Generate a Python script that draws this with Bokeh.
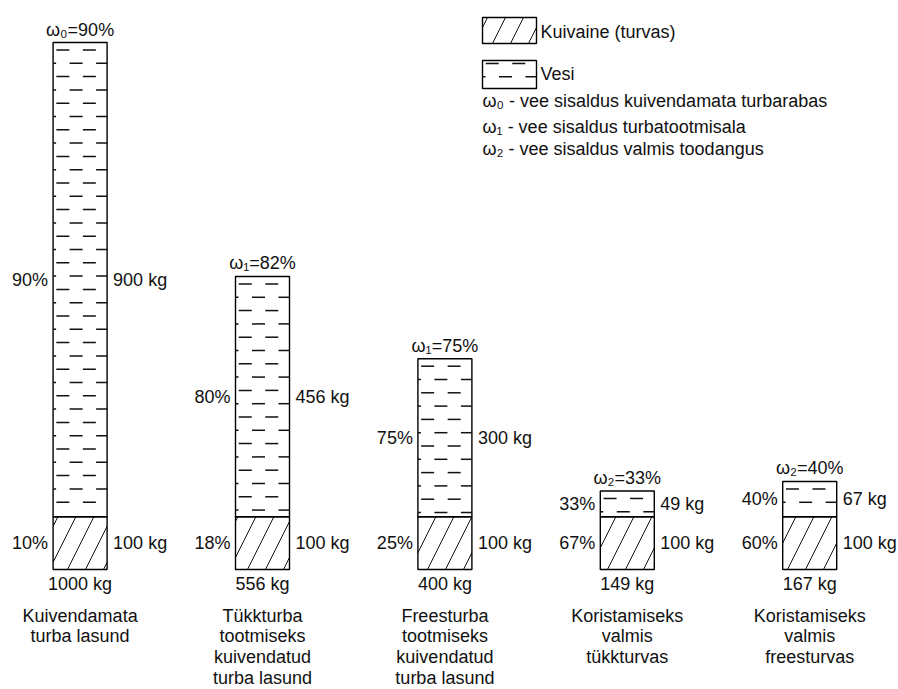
from bokeh.plotting import figure
from bokeh.models import Range1d, ColumnDataSource
from bokeh.core.properties import value
from bokeh.embed import file_html
from bokeh.resources import INLINE

# ---- data ----
top_labels = ["ω₀=90%", "ω₁=82%", "ω₁=75%", "ω₂=33%", "ω₂=40%"]
water_pct = ["90%", "80%", "75%", "33%", "40%"]
dry_pct = ["10%", "18%", "25%", "67%", "60%"]
water_kg = [900, 456, 300, 49, 67]
dry_kg = [100, 100, 100, 100, 100]
total_kg = [1000, 556, 400, 149, 167]
names = [
    ["Kuivendamata", "turba lasund"],
    ["Tükkturba", "tootmiseks", "kuivendatud", "turba lasund"],
    ["Freesturba", "tootmiseks", "kuivendatud", "turba lasund"],
    ["Koristamiseks", "valmis", "tükkturvas"],
    ["Koristamiseks", "valmis", "freesturvas"],
]
legend_items = ["Kuivaine (turvas)", "Vesi"]
legend_notes = [
    "ω₀ - vee sisaldus kuivendamata turbarabas",
    "ω₁ - vee sisaldus turbatootmisala",
    "ω₂ - vee sisaldus valmis toodangus",
]

# ---- layout ----
W, H = 898, 689
X0 = 79.6      # px of first bar centre
STEP = 182.4   # px between bars
S = 0.527      # px per kg
BASE = 120.0   # px from bottom to 0 kg
BWPX = 54.0
BW = BWPX / STEP
FONT = value("Liberation Sans")
FS = "18px"

def px_x(page_x):
    return (page_x - X0) / STEP

def px_y(page_y):
    return (H - page_y - BASE) / S

def y_px(yv):
    return H - BASE - yv * S

def dpx(px):
    return px / S

p = figure(width=W, height=H, output_backend="svg", toolbar_location=None,
           x_range=Range1d(-X0 / STEP, (W - X0) / STEP),
           y_range=Range1d(-BASE / S, (H - BASE) / S),
           x_axis_location=None, y_axis_location=None, min_border=0)
p.grid.visible = False
p.outline_line_color = None
p.background_fill_color = "white"

DRY = dict(fill_color="white", line_color="black", line_width=1.4,
           hatch_pattern="right_diagonal_line", hatch_color="#111111",
           hatch_weight=1.0, hatch_scale=36)
BOX = dict(fill_color="white", line_color="black", line_width=1.4)

# water texture: staggered dashes, generated per box
PER, DASH, ROW = 26.5, 13.0, 13.3
sx0, sy0, sx1, sy1 = [], [], [], []

def water_dashes(lpx, rpx, tpx, bpx, first=7.5):
    k = 0
    y = tpx + first
    while y <= bpx - 3:
        off = 3.25 if k % 2 == 0 else 3.25 + PER / 2
        start = lpx + off - PER
        while start < rpx:
            a, b = max(start, lpx), min(start + DASH, rpx)
            if b - a > 1:
                sx0.append(px_x(a)); sx1.append(px_x(b))
                sy0.append(px_y(y)); sy1.append(px_y(y))
            start += PER
        k += 1
        y += ROW

idx = list(range(len(total_kg)))
left = [i - BW / 2 for i in idx]
right = [i + BW / 2 for i in idx]
tops = [d + w for d, w in zip(dry_kg, water_kg)]

p.quad(left=left, right=right, bottom=[0] * 5, top=dry_kg, **DRY)
p.quad(left=left, right=right, bottom=dry_kg, top=tops, **BOX)
for i in idx:
    cx = X0 + STEP * i
    water_dashes(cx - BWPX / 2, cx + BWPX / 2, y_px(tops[i]), y_px(dry_kg[i]))

# legend boxes
p.quad(left=[px_x(482)], right=[px_x(536)], top=[px_y(17)], bottom=[px_y(43)], **DRY)
p.quad(left=[px_x(482)], right=[px_x(536)], top=[px_y(60)], bottom=[px_y(88)], **BOX)
water_dashes(482, 536, 60, 88, first=3.0)

p.segment(x0=sx0, y0=sy0, x1=sx1, y1=sy1, line_color="#111111", line_width=1.5)

def txt(x, y, t, align="center", baseline="middle"):
    src = ColumnDataSource(dict(x=x, y=y, t=t))
    p.text(x="x", y="y", text="t", source=src, text_font=FONT,
           text_font_size=FS, text_color="#111111", text_align=align,
           text_baseline=baseline)

txt(idx, [t + dpx(13) for t in total_kg], top_labels)
lx = [l - 5 / STEP for l in left]
rx = [r + 6 / STEP for r in right]
wmid = [d + w / 2 for d, w in zip(dry_kg, water_kg)]
dmid = [d / 2 for d in dry_kg]
txt(lx, wmid, water_pct, align="right")
txt(lx, dmid, dry_pct, align="right")
txt(rx, wmid, [f"{w} kg" for w in water_kg], align="left")
txt(rx, dmid, [f"{d} kg" for d in dry_kg], align="left")
txt(idx, [-dpx(14)] * 5, [f"{t} kg" for t in total_kg])

nx, ny, nt = [], [], []
for i, lines in enumerate(names):
    for j, line in enumerate(lines):
        nx.append(i)
        ny.append(px_y(615 + 20.8 * j))
        nt.append(line)
txt(nx, ny, nt)

txt([px_x(540)] * 2, [px_y(31), px_y(73)], legend_items, align="left")
txt([px_x(482)] * 3, [px_y(100), px_y(126), px_y(148)], legend_notes, align="left")

open("out.html", "w").write(file_html(p, INLINE))
